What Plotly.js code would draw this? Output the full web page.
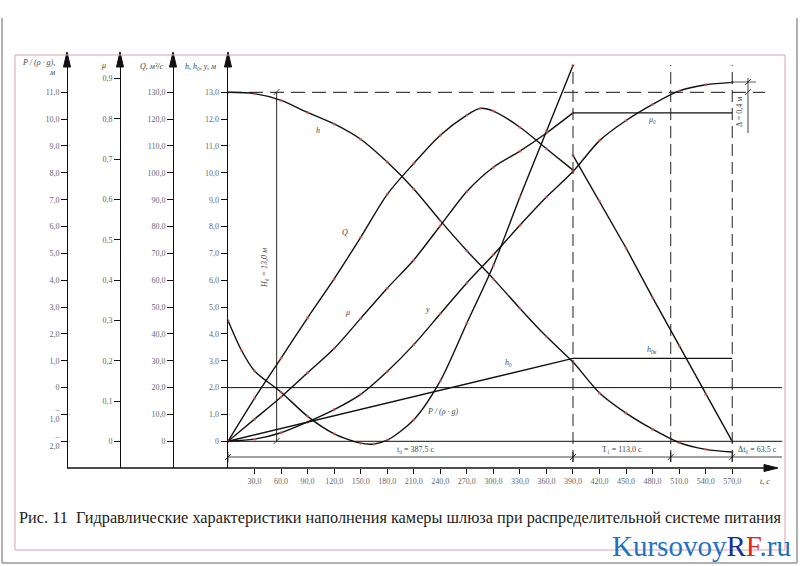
<!DOCTYPE html>
<html><head><meta charset="utf-8">
<script src="https://cdn.plot.ly/plotly-3.0.1.min.js"></script>
<style>html,body{margin:0;padding:0;background:#fff;}#chart{width:800px;height:566px;}</style>
</head><body><div id="chart"></div>
<script>
// ---------------- data ----------------
// time, s
const tMain = [0,30,60,90,120,150,180,210,240,270,300,330,360,390,420,450,480,510,540,570];
// head h, m
const hVals = [13.0,12.95,12.7,12.25,11.82,11.25,10.4,9.4,8.22,7.1,6.05,4.95,3.9,2.95,1.8,1.05,0.45,-0.05,-0.3,-0.4];
// chamber level y, m
const yVals = [0,0.08,0.32,0.72,1.18,1.75,2.6,3.6,4.75,5.9,6.95,8.05,9.1,10.05,11.2,11.95,12.55,13.05,13.28,13.37];
// discharge Q, m3/s (valve opening phase)
const tQ1 = [0,30,60,90,120,150,180,210,240,270,285,300,330,360,390];
const qVals1 = [0,16,31,46,60.5,76,92,103.5,114,121.5,124,123,117,109,101];
// discharge Q, m3/s (after full opening)
const tQ2 = [390,420,450,480,510,540,570];
const qVals2 = [106.5,89.5,72,53.5,35.5,17.5,0];
// discharge coefficient mu
const tMu = [0,30,60,90,120,150,180,210,240,270,300,330,360,390];
const muVals = [0,0.055,0.11,0.17,0.23,0.305,0.38,0.45,0.535,0.62,0.68,0.72,0.765,0.815];
const tMu0 = [390,570];
const mu0Vals = [0.815,0.815];
// h0 line
const tH0 = [0,390,570];
const h0Vals = [0,3.09,3.09];
// pressure P/(rho g), m
const tP = [0,15,30,60,90,120,150,165,180,210,240,270,300,330,360,390];
const pVals = [2.5,1.4,0.62,-0.17,-1.07,-1.72,-2.07,-2.1,-1.96,-1.2,0.25,2.4,4.55,7.1,9.55,12.0];
// tick values
const xTicks = [30,60,90,120,150,180,210,240,270,300,330,360,390,420,450,480,510,540,570];
const hTicks = [0,1,2,3,4,5,6,7,8,9,10,11,12,13];
const qTicks = [0,10,20,30,40,50,60,70,80,90,100,110,120,130];
const muTicks = [0,0.1,0.2,0.3,0.4,0.5,0.6,0.7,0.8,0.9];
const pTicks = [-2,-1,0,1,2,3,4,5,6,7,8,9,10,11];
// phase times
const t0 = 390, t1 = 500.5, tEnd = 570, tH0line = 55;

// ---------------- layout helpers ----------------
const L=67, R=782, T=55, B=468;
const fx = px => (px-L)/(R-L);
const fy = py => (B-py)/(B-T);
const fmt = v => v===0 ? '0' : v.toFixed(1).replace('.',',');
const fmtP = v => v<0 ? '–<br>'+Math.abs(v).toFixed(1).replace('.',',') : fmt(v);

const serif = 'Liberation Serif, Times New Roman, serif';
const tickFont = {family:serif, size:8, color:'#666'};
const lineBlack = {color:'#111', width:1.4};
const dot = {size:3, color:'rgba(225,90,90,0.75)'};

const traces = [
  {x:tMain, y:hVals, yaxis:'y', mode:'lines+markers', line:Object.assign({shape:'spline',smoothing:0.8},lineBlack), marker:dot},
  {x:tMain, y:yVals, yaxis:'y', mode:'lines+markers', line:Object.assign({shape:'spline',smoothing:0.8},lineBlack), marker:dot},
  {x:tH0, y:h0Vals, yaxis:'y', mode:'lines', line:lineBlack},
  {x:tQ1, y:qVals1, yaxis:'y2', mode:'lines+markers', line:Object.assign({shape:'spline',smoothing:0.8},lineBlack), marker:dot},
  {x:tQ2, y:qVals2, yaxis:'y2', mode:'lines+markers', line:lineBlack, marker:dot},
  {x:tMu, y:muVals, yaxis:'y3', mode:'lines+markers', line:Object.assign({shape:'spline',smoothing:0.8},lineBlack), marker:dot},
  {x:tMu0, y:mu0Vals, yaxis:'y3', mode:'lines', line:lineBlack},
  {x:tP, y:pVals, yaxis:'y4', mode:'lines+markers', line:Object.assign({shape:'spline',smoothing:0.8},lineBlack), marker:dot}
];

const hPx = 26.846, h0Px = 441.3;
const hRange = [-(B-h0Px)/hPx, (h0Px-T)/hPx];
const xMax = (R-228)/0.8846;

function yAxisBase(extra){
  return Object.assign({
    showline:true, linecolor:'#111', linewidth:1.4, showgrid:false, zeroline:false,
    ticks:'outside', ticklen:6, tickcolor:'#111', tickwidth:1, tickfont:tickFont,
    tickmode:'array', fixedrange:true
  }, extra);
}

const shapes = [];
function seg(x0,y0,x1,y1,opt){ shapes.push(Object.assign({type:'line',xref:'paper',yref:'paper',x0:fx(x0),y0:fy(y0),x1:fx(x1),y1:fy(y1),line:{color:'#111',width:1}},opt||{})); }
function dseg(x0,y0,x1,y1,opt){ shapes.push(Object.assign({type:'line',xref:'x',yref:'y',x0:x0,y0:y0,x1:x1,y1:y1,line:{color:'#111',width:1}},opt||{})); }
function tri(pts){ shapes.push({type:'path',xref:'paper',yref:'paper',path:'M'+pts.map(p=>fx(p[0])+','+fy(p[1])).join(' L')+' Z',fillcolor:'#111',line:{color:'#111',width:1}}); }

// x axis line and arrows
seg(67,468,775,468,{line:{color:'#111',width:1.4}});
tri([[778,468],[764,464.5],[764,471.5]]);
[67,120,173,228].forEach(x=>tri([[x,52],[x-3.5,67],[x+3.5,67]]));
// reference lines
dseg(0,13,(765-228)/0.8846,13,{line:{color:'#111',width:1,dash:'14px,7px'}});
dseg(0,2,xMax,2);
dseg(0,0,xMax,0);
const dimY = -(457-h0Px)/hPx;
dseg(-3.5,dimY,xMax,dimY,{line:{color:'#111',width:0.8}});
[t0,t1,tEnd].forEach(t=>dseg(t,-(462-h0Px)/hPx,t,(h0Px-65)/hPx,{line:{color:'#222',width:1,dash:'12px,6px'}}));
// dimension ticks
[0,t0,t1,tEnd].forEach(t=>{
  const px = 228+t*0.8846;
  seg(px,452,px,462,{line:{color:'#111',width:0.8}});
  seg(px-3,460,px+3,454,{line:{color:'#111',width:0.8}});
});
// H0 dimension
dseg(tH0line,0,tH0line,13,{line:{color:'#111',width:0.9}});
[92,441].forEach(py=>{ const px=228+tH0line*0.8846; seg(px-3,py+3,px+3,py-3,{line:{color:'#111',width:0.8}}); });
// delta dimension
seg(732,82,756,82,{line:{color:'#111',width:0.7}});
seg(748,78,748,133,{line:{color:'#111',width:0.8}});
[82,92].forEach(py=>seg(745,py+3,751,py-3,{line:{color:'#111',width:0.8}}));
// frames
shapes.push({type:'rect',xref:'paper',yref:'paper',x0:fx(15),x1:fx(785),y0:fy(550),y1:fy(55),line:{color:'#d9a3aa',width:1}});
seg(2,18,2,563,{line:{color:'#999',width:1.5}});
seg(2,563,797,563,{line:{color:'#999',width:1.5}});
seg(797,18,797,563,{line:{color:'#999',width:1.5}});

const annotations = [];
function txt(px,py,text,opt){ annotations.push(Object.assign({xref:'paper',yref:'paper',x:fx(px),y:fy(py),text:text,showarrow:false,xanchor:'center',yanchor:'middle',font:{family:serif,size:8,color:'#444'}},opt||{})); }
const it = {family:serif,size:8,color:'#444',style:'italic'};
// axis titles
txt(38,63,'P / (ρ · g),',{font:it});
txt(52,72,'м',{font:it});
txt(103,66,'μ',{font:it});
txt(152,67,'Q, м³/с',{font:it});
txt(200,67,'h, h₀, y, м',{font:it});
txt(765,482,'t, c',{font:it});
// curve labels
txt(318,130,'h',{font:it});
txt(345,232,'Q',{font:it});
txt(347,312,'μ',{font:it});
txt(427,309,'y',{font:it});
txt(508,362,'h₀',{font:it});
txt(442,411,'P / (ρ · g)',{font:it});
txt(652,120,'μ₀',{font:it});
txt(652,350,'h<sub>0к</sub>',{font:it});
// dimension labels
txt(416,449,'t₀ = 387,5 c');
txt(622,449,'T₁ = 113,0 c');
txt(757,449,'Δt₀ = 63,5 c');
txt(264,268,'H₀ = 13,0 м',{textangle:-90,font:it});
txt(739,112,'Δ = 0,4 м',{textangle:-90});
// caption & watermark
txt(400,517,'Рис. 11  Гидравлические характеристики наполнения камеры шлюза при распределительной системе питания',{font:{family:serif,size:16.3,color:'#222'}});
txt(701,546,'<span style="color:#1f72c4">Kursovoy</span><span style="color:#1a2f9c">R</span><span style="color:#e5231b">F</span><span style="color:#1f72c4">.ru</span>',{font:{family:serif,size:29,color:'#1f72c4'}});

const layout = {
  width:800, height:566, margin:{l:L,r:800-R,t:T,b:566-B,pad:0},
  paper_bgcolor:'#fff', plot_bgcolor:'rgba(0,0,0,0)', showlegend:false,
  separators:', ',
  xaxis:{domain:[fx(228),1], range:[0,xMax], anchor:'y', showline:false, showgrid:false, zeroline:false,
    ticks:'outside', ticklen:5, tickcolor:'#111', tickmode:'array', tickvals:xTicks, tickformat:'.1f', tickfont:tickFont},
  yaxis:yAxisBase({range:hRange, anchor:'x', side:'left', tickvals:hTicks, ticktext:hTicks.map(fmt)}),
  yaxis2:yAxisBase({range:hRange.map(v=>v*10), overlaying:'y', anchor:'free', position:fx(173), side:'left', tickvals:qTicks, ticktext:qTicks.map(fmt)}),
  yaxis3:yAxisBase({range:[-(B-h0Px)/403, (h0Px-T)/403], overlaying:'y', anchor:'free', position:fx(120), side:'left', tickvals:muTicks, ticktext:muTicks.map(fmt)}),
  yaxis4:yAxisBase({range:hRange.map(v=>v-2), overlaying:'y', anchor:'free', position:0, side:'left', tickvals:pTicks, ticktext:pTicks.map(fmtP)}),
  shapes:shapes, annotations:annotations
};
Plotly.newPlot('chart', traces, layout, {staticPlot:true, displayModeBar:false});
</script></body></html>
